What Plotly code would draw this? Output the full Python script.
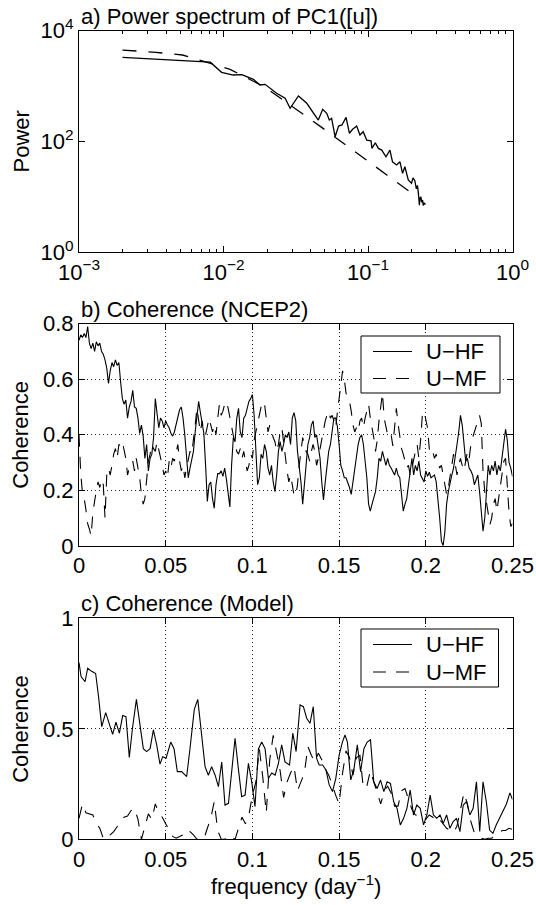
import plotly.graph_objects as go

FONT = "Liberation Sans, Arial, Helvetica, sans-serif"
W, H = 536, 905

# ---------------- Panel a: power spectrum (log-log) ----------------
FA_SPEC = [0.002, 0.0077, 0.0081, 0.0097, 0.0117, 0.0134, 0.0161, 0.0179, 0.0194, 0.0233,
           0.0267, 0.0289, 0.033, 0.0377, 0.0397, 0.0453, 0.0486, 0.0518, 0.054, 0.056,
           0.0592, 0.0626, 0.066, 0.0705, 0.0743, 0.0783, 0.0835, 0.088, 0.0926, 0.098,
           0.105, 0.1065, 0.1123, 0.118, 0.1245, 0.1332, 0.1418, 0.1478, 0.1577, 0.1664,
           0.1735, 0.18, 0.19, 0.2, 0.205, 0.211, 0.216, 0.22, 0.2233, 0.2268,
           0.229, 0.2325, 0.235, 0.2386, 0.241, 0.2448, 0.25]
PA_SPEC = [3300, 2800, 2700, 1775, 1585, 1607, 1327, 1047, 1077, 741,
           603, 398, 665, 490, 398, 244, 381, 323, 244, 262,
           122, 190, 199, 273, 141, 166, 190, 131, 150, 106,
           103, 75, 95, 75, 70, 53, 70, 43, 37.7, 43,
           26.7, 35, 20.2, 17.6, 22, 19.6, 14, 16, 11.6, 7.1,
           9.5, 10, 8, 8.8, 7, 7.7, 7.3]
FA_FIT = [0.002, 0.0034, 0.0052, 0.0081, 0.0111, 0.0194, 0.0338, 0.0478, 0.0668, 0.0953, 0.135, 0.195]
PA_FIT = [4470, 4070, 3640, 2580, 2010, 951, 345, 180, 95, 47.7, 24.9, 12.4]

# ---------------- Panel b: coherence NCEP2 ----------------
F_B = [0.000, 0.001, 0.002, 0.003, 0.004, 0.005, 0.006, 0.007, 0.008, 0.009,
       0.010, 0.011, 0.012, 0.013, 0.014, 0.015, 0.016, 0.017, 0.018, 0.019,
       0.020, 0.021, 0.022, 0.023, 0.024, 0.025, 0.026, 0.027, 0.028, 0.029,
       0.030, 0.031, 0.032, 0.033, 0.034, 0.035, 0.036, 0.037, 0.038, 0.039,
       0.040, 0.041, 0.042, 0.043, 0.044, 0.045, 0.046, 0.047, 0.048, 0.049,
       0.050, 0.051, 0.052, 0.053, 0.054, 0.055, 0.056, 0.057, 0.058, 0.059,
       0.060, 0.061, 0.062, 0.063, 0.064, 0.065, 0.066, 0.067, 0.068, 0.069,
       0.070, 0.071, 0.072, 0.073, 0.074, 0.075, 0.076, 0.077, 0.078, 0.079,
       0.080, 0.081, 0.082, 0.083, 0.084, 0.085, 0.086, 0.087, 0.088, 0.089,
       0.090, 0.091, 0.092, 0.093, 0.094, 0.095, 0.096, 0.097, 0.098, 0.099,
       0.100, 0.101, 0.102, 0.103, 0.104, 0.105, 0.106, 0.107, 0.108, 0.109,
       0.110, 0.111, 0.112, 0.113, 0.114, 0.115, 0.116, 0.117, 0.118, 0.119,
       0.120, 0.121, 0.122, 0.123, 0.124, 0.125, 0.126, 0.127, 0.128, 0.129,
       0.130, 0.131, 0.132, 0.133, 0.134, 0.135, 0.136, 0.137, 0.138, 0.139,
       0.140, 0.141, 0.142, 0.143, 0.144, 0.145, 0.146, 0.147, 0.148, 0.149,
       0.150, 0.151, 0.152, 0.153, 0.154, 0.155, 0.156, 0.157, 0.158, 0.159,
       0.160, 0.161, 0.162, 0.163, 0.164, 0.165, 0.166, 0.167, 0.168, 0.169,
       0.170, 0.171, 0.172, 0.173, 0.174, 0.175, 0.176, 0.177, 0.178, 0.179,
       0.180, 0.181, 0.182, 0.183, 0.184, 0.185, 0.186, 0.187, 0.188, 0.189,
       0.190, 0.191, 0.192, 0.193, 0.194, 0.195, 0.196, 0.197, 0.198, 0.199,
       0.200, 0.201, 0.202, 0.203, 0.204, 0.205, 0.206, 0.207, 0.208, 0.209,
       0.210, 0.211, 0.212, 0.213, 0.214, 0.215, 0.216, 0.217, 0.218, 0.219,
       0.220, 0.221, 0.222, 0.223, 0.224, 0.225, 0.226, 0.227, 0.228, 0.229,
       0.230, 0.231, 0.232, 0.233, 0.234, 0.235, 0.236, 0.237, 0.238, 0.239,
       0.240, 0.241, 0.242, 0.243, 0.244, 0.245, 0.246, 0.247, 0.248, 0.249,
       0.250]

HF_B_1 = [0.74, 0.76, 0.75, 0.765, 0.75, 0.79, 0.73, 0.71, 0.73, 0.70, 0.735, 0.72, 0.73, 0.70, 0.69,
          0.67, 0.64, 0.585, 0.63, 0.66, 0.645, 0.67, 0.65, 0.66, 0.59, 0.53, 0.51, 0.525, 0.46, 0.50,
          0.52, 0.56, 0.50, 0.495, 0.46, 0.405, 0.435, 0.395, 0.315, 0.365, 0.27, 0.315, 0.33, 0.39,
          0.53, 0.47, 0.425, 0.46, 0.45, 0.425, 0.45]
HF_B_2 = [0.435, 0.425, 0.405, 0.395, 0.41, 0.435, 0.46, 0.49, 0.50, 0.46, 0.40, 0.315, 0.245, 0.28,
          0.315, 0.34, 0.41, 0.48, 0.52, 0.48, 0.435, 0.405, 0.29, 0.16, 0.22, 0.23, 0.17, 0.135]
HF_B_3 = [0.22, 0.26, 0.26, 0.27, 0.25, 0.28, 0.24, 0.18, 0.14, 0.29, 0.39, 0.375, 0.46, 0.495, 0.41,
          0.39, 0.46, 0.47, 0.495, 0.52, 0.53, 0.545]
HF_B_4 = [0.47, 0.33, 0.22, 0.245, 0.33, 0.315, 0.365, 0.34, 0.28, 0.255, 0.29, 0.23, 0.195, 0.255,
          0.34, 0.375, 0.34, 0.365, 0.40, 0.39, 0.41, 0.365, 0.46, 0.48, 0.45, 0.34, 0.29, 0.23, 0.15,
          0.22, 0.29, 0.365, 0.39, 0.435, 0.45, 0.39, 0.40, 0.35, 0.315, 0.23, 0.165, 0.23, 0.29, 0.34,
          0.365, 0.425, 0.46, 0.46, 0.43, 0.365]
HF_B_5 = [0.29, 0.27, 0.245, 0.245, 0.23, 0.21, 0.185, 0.23, 0.27, 0.315, 0.365,
          0.39, 0.40, 0.365, 0.315, 0.245, 0.15, 0.125, 0.15, 0.17, 0.195, 0.245, 0.315, 0.305, 0.34,
          0.315, 0.29, 0.315, 0.29, 0.28, 0.27, 0.255, 0.28, 0.255, 0.245, 0.185, 0.125, 0.15, 0.17,
          0.22, 0.27, 0.315, 0.255, 0.29, 0.27, 0.305, 0.255, 0.245, 0.23, 0.27]
HF_B_6 = [0.25, 0.265, 0.245, 0.25, 0.255, 0.23, 0.17, 0.10, 0.017, 0.0, 0.05, 0.15, 0.195, 0.23,
          0.255, 0.28, 0.315, 0.365, 0.41, 0.47, 0.435, 0.365, 0.305, 0.315, 0.28, 0.27, 0.255, 0.22,
          0.24, 0.255, 0.195, 0.125, 0.053, 0.10, 0.195, 0.29, 0.255, 0.29, 0.27, 0.305, 0.255, 0.29,
          0.27, 0.315, 0.36, 0.42, 0.38, 0.30, 0.28, 0.25]
HF_B = HF_B_1 + HF_B_2 + HF_B_3 + HF_B_4 + HF_B_5 + HF_B_6

MF_B_1 = [0.40, 0.26, 0.19, 0.17, 0.13, 0.08, 0.06, 0.035, 0.12, 0.17, 0.20, 0.23, 0.21, 0.24, 0.22,
          0.10, 0.255, 0.28, 0.255, 0.29, 0.33, 0.35, 0.315, 0.365, 0.36, 0.375, 0.34, 0.315, 0.255,
          0.28, 0.29, 0.305, 0.27, 0.315, 0.28, 0.245, 0.185, 0.15, 0.17, 0.245, 0.305, 0.33, 0.365,
          0.35, 0.34, 0.375, 0.35, 0.315, 0.29, 0.255, 0.27]
MF_B_2 = [0.245, 0.305, 0.28, 0.315, 0.305, 0.34, 0.365, 0.305, 0.27, 0.29, 0.245, 0.28, 0.315, 0.34,
          0.33, 0.375, 0.435, 0.495, 0.46, 0.41, 0.45, 0.41, 0.40, 0.435, 0.46, 0.435, 0.41, 0.435]
MF_B_3 = [0.40, 0.46, 0.51, 0.47, 0.485, 0.51, 0.52, 0.495, 0.46, 0.435, 0.40, 0.365, 0.34, 0.33, 0.35,
          0.315, 0.34, 0.305, 0.27, 0.29, 0.33, 0.315]
MF_B_4 = [0.38, 0.41, 0.44, 0.475, 0.50, 0.52, 0.51, 0.46, 0.41, 0.435, 0.41, 0.39, 0.375, 0.34, 0.365,
          0.41, 0.425, 0.365, 0.315, 0.27, 0.23, 0.255, 0.22, 0.18, 0.18, 0.22, 0.29, 0.34, 0.39, 0.365,
          0.34, 0.33, 0.305, 0.34, 0.365, 0.34, 0.29, 0.315, 0.35, 0.39, 0.425, 0.45, 0.47, 0.485, 0.46,
          0.47, 0.45, 0.425, 0.48, 0.53]
MF_B_5 = [0.59, 0.63, 0.60, 0.55, 0.53, 0.52, 0.485, 0.435, 0.41, 0.425, 0.41,
          0.45, 0.46, 0.425, 0.46, 0.485, 0.51, 0.46, 0.425, 0.39, 0.34, 0.38, 0.45, 0.50, 0.55, 0.46,
          0.425, 0.40, 0.39, 0.40, 0.36, 0.44, 0.495, 0.44, 0.39, 0.35, 0.33, 0.305, 0.28, 0.29, 0.255,
          0.28, 0.315, 0.34, 0.365, 0.315, 0.38, 0.47, 0.485, 0.46]
MF_B_6 = [0.425, 0.35, 0.33, 0.34, 0.315, 0.33, 0.305, 0.28, 0.29, 0.255, 0.22, 0.185, 0.21, 0.245,
          0.29, 0.33, 0.29, 0.255, 0.29, 0.315, 0.29, 0.27, 0.305, 0.34, 0.315, 0.365, 0.39, 0.41, 0.435,
          0.45, 0.47, 0.44, 0.27, 0.195, 0.16, 0.11, 0.077, 0.10, 0.15, 0.17, 0.125, 0.17, 0.22, 0.27,
          0.305, 0.315, 0.20, 0.12, 0.07, 0.08]
MF_B = MF_B_1 + MF_B_2 + MF_B_3 + MF_B_4 + MF_B_5 + MF_B_6

# ---------------- Panel c: coherence Model ----------------
F_C_HF = [0.0, 0.0012, 0.0035, 0.005, 0.0073, 0.0096, 0.0112, 0.0131, 0.0154, 0.0175,
          0.0194, 0.0213, 0.0233, 0.0252, 0.0271, 0.029, 0.0308, 0.0331, 0.0352, 0.0371,
          0.039, 0.041, 0.0429, 0.0448, 0.0467, 0.0483, 0.0502, 0.0529, 0.0548, 0.0567,
          0.0592, 0.0621, 0.064, 0.0665, 0.0685, 0.0704, 0.0727, 0.0746, 0.0765, 0.0785,
          0.0804, 0.0823, 0.0842, 0.0862, 0.0881, 0.09, 0.0919, 0.0938, 0.0958, 0.0977,
          0.0996, 0.1015, 0.1035, 0.1054, 0.1073, 0.1092, 0.1112, 0.1131, 0.115, 0.1169,
          0.1188, 0.1208,
          0.1214, 0.1233, 0.1252, 0.1275, 0.1294, 0.1313, 0.1332, 0.1351, 0.137, 0.1385,
          0.1405, 0.1424, 0.1443, 0.1462, 0.1481, 0.15, 0.1519, 0.1534, 0.1548, 0.1567,
          0.1586, 0.1605, 0.1624, 0.1643, 0.1662, 0.1681, 0.17, 0.1719, 0.1739, 0.1758,
          0.1777, 0.1796, 0.1815, 0.1834, 0.1853, 0.1872, 0.1891, 0.191, 0.1929, 0.1948,
          0.1968, 0.1987, 0.2006, 0.2025, 0.2044, 0.2063, 0.2082, 0.2101, 0.212, 0.2139,
          0.2158, 0.2177, 0.2197, 0.2216, 0.2235, 0.2254, 0.2273, 0.2292, 0.2311, 0.233,
          0.2349, 0.2368, 0.2387, 0.2406, 0.2426, 0.2443, 0.2465, 0.2485, 0.25]
HF_C = [0.80, 0.736, 0.713, 0.774, 0.76, 0.75, 0.65, 0.51, 0.573, 0.517,
        0.475, 0.53, 0.48, 0.56, 0.555, 0.37, 0.50, 0.633, 0.517, 0.41,
        0.397, 0.41, 0.495, 0.427, 0.34, 0.374, 0.367, 0.44, 0.41, 0.306,
        0.306, 0.284, 0.41, 0.588, 0.633, 0.50, 0.329, 0.29, 0.329, 0.29,
        0.238, 0.35, 0.155, 0.163, 0.306, 0.457, 0.32, 0.193, 0.20, 0.344,
        0.26, 0.148, 0.41, 0.44, 0.41, 0.276, 0.30, 0.29, 0.344, 0.427,
        0.35, 0.336,
        0.336, 0.48, 0.397, 0.608, 0.60, 0.548, 0.525, 0.60, 0.367, 0.336,
        0.336, 0.314, 0.246, 0.216, 0.276, 0.38, 0.44, 0.472, 0.44, 0.268,
        0.32, 0.427, 0.306, 0.41, 0.44, 0.45, 0.26, 0.23, 0.268, 0.216,
        0.26, 0.253, 0.17, 0.14, 0.065, 0.095, 0.14, 0.223, 0.11, 0.155,
        0.14, 0.065, 0.11, 0.20, 0.11, 0.095, 0.11, 0.072, 0.11, 0.05,
        0.08, 0.095, 0.035, 0.155, 0.17, 0.11, 0.14, 0.26, 0.035, 0.26,
        0.17, 0.042, 0.027, 0.065, 0.095, 0.125, 0.16, 0.21, 0.18]

F_C = [0.000, 0.002, 0.004, 0.006, 0.008, 0.010, 0.012, 0.014, 0.016, 0.018,
       0.020, 0.022, 0.024, 0.026, 0.028, 0.030, 0.032, 0.034, 0.036, 0.038,
       0.040, 0.042, 0.044, 0.046, 0.048, 0.050, 0.052, 0.054, 0.056, 0.058,
       0.060, 0.062, 0.064, 0.066, 0.068, 0.070, 0.072, 0.074, 0.076, 0.078,
       0.080, 0.082, 0.084, 0.086, 0.088, 0.090, 0.092, 0.094, 0.096, 0.098,
       0.100, 0.102, 0.104, 0.106, 0.108, 0.110, 0.112, 0.114, 0.116, 0.118,
       0.120, 0.122, 0.124, 0.126, 0.128, 0.130, 0.132, 0.134, 0.136, 0.138,
       0.140, 0.142, 0.144, 0.146, 0.148, 0.150, 0.152, 0.154, 0.156, 0.158,
       0.160, 0.162, 0.164, 0.166, 0.168, 0.170, 0.172, 0.174, 0.176, 0.178,
       0.180, 0.182, 0.184, 0.186, 0.188, 0.190, 0.192, 0.194, 0.196, 0.198,
       0.200, 0.202, 0.204, 0.206, 0.208, 0.210, 0.212, 0.214, 0.216, 0.218,
       0.220, 0.222, 0.224, 0.226, 0.228, 0.230, 0.232, 0.234, 0.236, 0.238,
       0.240, 0.242, 0.244, 0.246, 0.248, 0.250]
MF_C_1 = [0.095, 0.16, 0.12, 0.115, 0.11, 0.07, 0.05, 0.005, 0.0, 0.02,
          0.035, 0.057, 0.08, 0.10, 0.105, 0.13, 0.14, 0.09, 0.0, 0.06,
          0.115, 0.09, 0.16, 0.12, 0.10, 0.07, 0.04, 0.013, 0.005, 0.012,
          0.02, 0.012, 0.035, 0.02, 0.0, 0.0, 0.0, 0.05, 0.095, 0.17,
          0.04, 0.0, 0.0, 0.018, 0.012, 0.0, 0.05, 0.10, 0.07, 0.11,
          0.20, 0.26, 0.41, 0.28, 0.12, 0.36, 0.47, 0.39, 0.31, 0.19, 0.26]
MF_C_2 = [0.30, 0.33, 0.22, 0.26, 0.30, 0.42, 0.38, 0.35, 0.39, 0.36,
          0.32, 0.29, 0.25, 0.20, 0.16, 0.30, 0.40, 0.37, 0.29, 0.37,
          0.38, 0.23, 0.24, 0.31, 0.26, 0.20, 0.16, 0.22, 0.24, 0.21,
          0.15, 0.15, 0.22, 0.23, 0.18, 0.135, 0.11, 0.11, 0.11, 0.09,
          0.11, 0.10, 0.08, 0.09, 0.07, 0.05, 0.04, 0.03, 0.06, 0.13,
          0.21, 0.16, 0.08, 0.03, 0.02, 0.005, 0.0, 0.005, 0.005, 0.015,
          0.028, 0.04, 0.04, 0.05, 0.045]
MF_C = MF_C_1 + MF_C_2

assert len(FA_SPEC) == len(PA_SPEC) and len(FA_FIT) == len(PA_FIT)
assert len(F_B) == len(HF_B) == len(MF_B), (len(F_B), len(HF_B), len(MF_B))
assert len(F_C_HF) == len(HF_C), (len(F_C_HF), len(HF_C))
assert len(F_C) == len(MF_C), (len(F_C), len(MF_C))

X_TICKS = [0, 0.05, 0.1, 0.15, 0.2, 0.25]
X_TICKTEXT = ["0", "0.05", "0.1", "0.15", "0.2", "0.25"]
LEGEND_NAMES = ["U\u2212HF", "U\u2212MF"]

# ---------------- Layout geometry (window pixels) ----------------
PL, PR = 79, 512.5
A_TOP, A_BOT = 30.7, 252.3
B_TOP, B_BOT = 323.7, 545.8
C_TOP, C_BOT = 618.3, 839.3


def px_x(p):
    return p / W


def px_y(p):
    return 1 - p / H


SOLID = dict(color="black", width=1.1)
DASHED = dict(color="black", width=1.1, dash="12px,10px")

fig = go.Figure()
fig.add_trace(go.Scatter(x=FA_SPEC, y=PA_SPEC, mode="lines", line=dict(color="black", width=1.3),
                         showlegend=False, xaxis="x", yaxis="y", hoverinfo="skip"))
fig.add_trace(go.Scatter(x=FA_FIT, y=PA_FIT, mode="lines",
                         line=dict(color="black", width=1.3, dash="14px,12px"),
                         showlegend=False, xaxis="x", yaxis="y", hoverinfo="skip"))

fig.add_trace(go.Scatter(x=F_B, y=HF_B, mode="lines", name=LEGEND_NAMES[0], line=SOLID,
                         xaxis="x2", yaxis="y2", showlegend=False))
fig.add_trace(go.Scatter(x=F_B, y=MF_B, mode="lines", name=LEGEND_NAMES[1], line=DASHED,
                         xaxis="x2", yaxis="y2", showlegend=False))

fig.add_trace(go.Scatter(x=F_C_HF, y=HF_C, mode="lines", name=LEGEND_NAMES[0], line=SOLID,
                         xaxis="x3", yaxis="y3", showlegend=False))
fig.add_trace(go.Scatter(x=F_C, y=MF_C, mode="lines", name=LEGEND_NAMES[1], line=DASHED,
                         xaxis="x3", yaxis="y3", showlegend=False))

tickfont = dict(size=22, family=FONT, color="black")
common = dict(showline=True, linecolor="black", linewidth=1, mirror="ticks",
              ticks="inside", ticklen=6, tickwidth=1, tickcolor="black",
              tickfont=tickfont, zeroline=False, fixedrange=True, automargin=False)
grid = dict(showgrid=True, gridcolor="#222222", gridwidth=1, griddash="1px,3px")

minor_vals = [m * 10 ** e for e in (-3, -2, -1) for m in range(2, 10)]

fig.update_layout(
    width=W, height=H,
    margin=dict(l=0, r=0, t=0, b=0, autoexpand=False),
    paper_bgcolor="white", plot_bgcolor="white",
    font=dict(family=FONT, size=22, color="black"),
    showlegend=False,
    xaxis=dict(common, type="log", range=[-3, 0], domain=[px_x(PL), px_x(PR)], anchor="y",
               tickvals=[0.001, 0.01, 0.1, 1],
               ticktext=["10<sup>\u22123</sup>", "10<sup>\u22122</sup>", "10<sup>\u22121</sup>", "10<sup>0</sup>"],
               showgrid=False,
               minor=dict(tickvals=minor_vals, ticks="inside", ticklen=3, tickcolor="black", showgrid=False)),
    yaxis=dict(common, type="log", range=[0, 4], domain=[px_y(A_BOT), px_y(A_TOP)], anchor="x",
               tickvals=[1, 100, 10000],
               ticktext=["10<sup>0</sup>", "10<sup>2</sup>", "10<sup>4</sup>"],
               showgrid=False),
    xaxis2=dict(common, **grid, range=[0, 0.25], domain=[px_x(PL), px_x(PR)], anchor="y2",
                tickvals=X_TICKS, ticktext=X_TICKTEXT),
    yaxis2=dict(common, **grid, range=[0, 0.8], domain=[px_y(B_BOT), px_y(B_TOP)], anchor="x2",
                tickvals=[0, 0.2, 0.4, 0.6, 0.8], ticktext=["0", "0.2", "0.4", "0.6", "0.8"]),
    xaxis3=dict(common, **grid, range=[0, 0.25], domain=[px_x(PL), px_x(PR)], anchor="y3",
                tickvals=X_TICKS, ticktext=X_TICKTEXT),
    yaxis3=dict(common, **grid, range=[0, 1], domain=[px_y(C_BOT), px_y(C_TOP)], anchor="x3",
                tickvals=[0, 0.5, 1], ticktext=["0", "0.5", "1"]),
)

ann_font = dict(size=22, family=FONT, color="black")
annotations = [
    dict(text="a) Power spectrum of PC1([u])", x=px_x(PL), y=px_y(A_TOP), xanchor="left", yanchor="bottom"),
    dict(text="b) Coherence (NCEP2)", x=px_x(PL), y=px_y(B_TOP), xanchor="left", yanchor="bottom"),
    dict(text="c) Coherence (Model)", x=px_x(PL), y=px_y(C_TOP), xanchor="left", yanchor="bottom"),
    dict(text="Power", x=px_x(21), y=px_y((A_TOP + A_BOT) / 2), xanchor="center", yanchor="middle", textangle=-90),
    dict(text="Coherence", x=px_x(21), y=px_y((B_TOP + B_BOT) / 2), xanchor="center", yanchor="middle", textangle=-90),
    dict(text="Coherence", x=px_x(21), y=px_y((C_TOP + C_BOT) / 2), xanchor="center", yanchor="middle", textangle=-90),
    dict(text="frequency (day<sup>\u22121</sup>)", x=px_x((PL + PR) / 2), y=px_y(901), xanchor="center", yanchor="bottom"),
]

# Legend boxes (box, sample lines and labels drawn above the data, as in the original)
shapes = []
for (bx0, by0, bx1, by1, row1, row2) in [(361, 336, 500, 393, 351.5, 378.5),
                                         (361, 629, 498.5, 687, 644.5, 672)]:
    shapes.append(dict(type="rect", xref="paper", yref="paper", layer="above",
                       x0=px_x(bx0), y0=px_y(by1), x1=px_x(bx1), y1=px_y(by0),
                       line=dict(color="black", width=1), fillcolor="white"))
    shapes.append(dict(type="line", xref="paper", yref="paper", layer="above",
                       x0=px_x(373), y0=px_y(row1), x1=px_x(412), y1=px_y(row1),
                       line=dict(color="black", width=1.1)))
    shapes.append(dict(type="line", xref="paper", yref="paper", layer="above",
                       x0=px_x(373), y0=px_y(row2), x1=px_x(412), y1=px_y(row2),
                       line=dict(color="black", width=1.1, dash="13px,10px")))
    annotations.append(dict(text=LEGEND_NAMES[0], x=px_x(424), y=px_y(row1), xanchor="left", yanchor="middle"))
    annotations.append(dict(text=LEGEND_NAMES[1], x=px_x(424), y=px_y(row2), xanchor="left", yanchor="middle"))

for a in annotations:
    a.update(xref="paper", yref="paper", showarrow=False, font=ann_font)
fig.update_layout(annotations=annotations, shapes=shapes)

# Remove the browser's default 8px body margin so the figure sits at the window origin.
fig.write_html("out.html",
               config={"displayModeBar": False, "staticPlot": True},
               post_script="document.body.style.margin='0';document.body.style.overflow='hidden';")
